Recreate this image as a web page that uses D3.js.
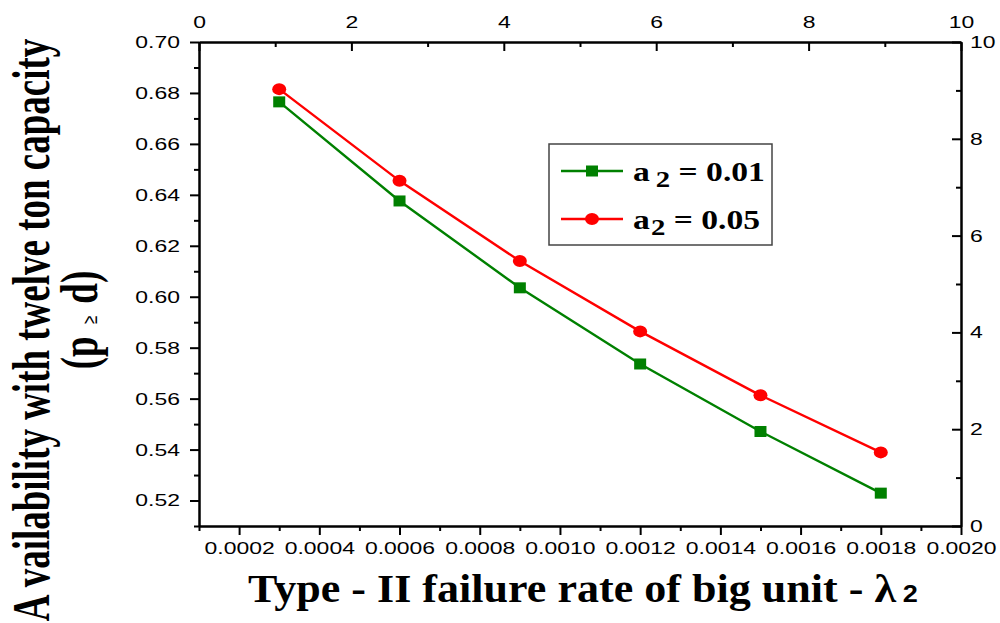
<!DOCTYPE html>
<html>
<head>
<meta charset="utf-8">
<script src="https://cdn.jsdelivr.net/npm/d3@7"></script>
<style>
  body { margin: 0; background: #fff; }
  svg { display: block; }
</style>
</head>
<body>
<div id="chart"></div>
<script>
// data
const lambdaValues = [0.0003, 0.0006, 0.0009, 0.0012, 0.0015, 0.0018];
const availA001 = [0.6765, 0.6376, 0.6035, 0.5736, 0.5471, 0.5229];
const availA005 = [0.6815, 0.6455, 0.6140, 0.5864, 0.5613, 0.5389];
const seriesNames = ["0.01", "0.05"];
const xTicks = [0.0002, 0.0004, 0.0006, 0.0008, 0.0010, 0.0012, 0.0014, 0.0016, 0.0018, 0.0020];
const xMinorTicks = [0.0001, 0.0003, 0.0005, 0.0007, 0.0009, 0.0011, 0.0013, 0.0015, 0.0017, 0.0019];
const yTicks = [0.52, 0.54, 0.56, 0.58, 0.60, 0.62, 0.64, 0.66, 0.68, 0.70];
const yMinorTicks = [0.51, 0.53, 0.55, 0.57, 0.59, 0.61, 0.63, 0.65, 0.67, 0.69];
const auxTicks = [0, 2, 4, 6, 8, 10];
const auxMinorTicks = [1, 3, 5, 7, 9];

const width = 1000, height = 623;
const margin = { top: 42, right: 39, bottom: 97, left: 199 };
const serif = "'Liberation Serif', 'Times New Roman', serif";
const sans = "'Liberation Sans', Arial, sans-serif";
const stretch = 1.35; // the source picture is widened sideways

const svg = d3.select('#chart').append('svg')
  .attr('width', width)
  .attr('height', height);

const x = d3.scaleLinear().domain([0.0001, 0.0020]).range([margin.left, width - margin.right]);
const y = d3.scaleLinear().domain([0.51, 0.70]).range([height - margin.bottom, margin.top]);
const xTop = d3.scaleLinear().domain([0, 10]).range(x.range());
const yRight = d3.scaleLinear().domain([0, 10]).range(y.range());

// widen tick labels around their anchor x, by wrapping each one in a scaled group
function styleAxis(g) {
  g.selectAll('path, line').attr('stroke', '#000').attr('stroke-width', 2);
  g.selectAll('.tick text').each(function () {
    const t = d3.select(this)
      .attr('font-family', sans).attr('font-size', 17).attr('fill', '#000');
    const x0 = +t.attr('x') || 0;
    const wrap = d3.select(this.parentNode).insert('g', () => this)
      .attr('transform', `translate(${x0 * (1 - stretch)},0) scale(${stretch},1)`);
    wrap.node().appendChild(this);
  });
}

// bottom axis
svg.append('g')
  .attr('transform', `translate(0,${y.range()[0]})`)
  .call(d3.axisBottom(x).tickValues(xMinorTicks).tickSizeInner(5).tickSizeOuter(0).tickFormat(''))
  .call(styleAxis);
svg.append('g')
  .attr('transform', `translate(0,${y.range()[0]})`)
  .call(d3.axisBottom(x).tickValues(xTicks).tickSizeInner(9).tickSizeOuter(0).tickPadding(7).tickFormat(d3.format('.4f')))
  .call(styleAxis);

// left axis
svg.append('g')
  .attr('transform', `translate(${x.range()[0]},0)`)
  .call(d3.axisLeft(y).tickValues(yMinorTicks).tickSizeInner(5).tickSizeOuter(0).tickFormat(''))
  .call(styleAxis);
svg.append('g')
  .attr('transform', `translate(${x.range()[0]},0)`)
  .call(d3.axisLeft(y).tickValues(yTicks).tickSizeInner(9).tickSizeOuter(0).tickPadding(10).tickFormat(d3.format('.2f')))
  .call(styleAxis);

// top axis (ticks inward)
svg.append('g')
  .attr('transform', `translate(0,${y.range()[1]})`)
  .call(d3.axisTop(xTop).tickValues(auxMinorTicks).tickSizeInner(-5).tickSizeOuter(0).tickFormat(''))
  .call(styleAxis);
svg.append('g')
  .attr('transform', `translate(0,${y.range()[1]})`)
  .call(d3.axisTop(xTop).tickValues(auxTicks).tickSizeInner(-9).tickSizeOuter(0).tickPadding(14))
  .call(styleAxis);

// right axis (ticks inward)
svg.append('g')
  .attr('transform', `translate(${x.range()[1]},0)`)
  .call(d3.axisRight(yRight).tickValues(auxMinorTicks).tickSizeInner(-5).tickSizeOuter(0).tickFormat(''))
  .call(styleAxis);
svg.append('g')
  .attr('transform', `translate(${x.range()[1]},0)`)
  .call(d3.axisRight(yRight).tickValues(auxTicks).tickSizeInner(-9).tickSizeOuter(0).tickPadding(9))
  .call(styleAxis);

// series
const series = [
  { name: seriesNames[0], values: availA001, color: '#008000', shape: 'square' },
  { name: seriesNames[1], values: availA005, color: '#ff0000', shape: 'circle' }
];

const line = d3.line().x(d => x(d[0])).y(d => y(d[1]));

series.forEach(s => {
  const pts = lambdaValues.map((l, i) => [l, s.values[i]]);
  svg.append('path')
    .datum(pts)
    .attr('fill', 'none')
    .attr('stroke', s.color)
    .attr('stroke-width', 2.4)
    .attr('d', line);
  if (s.shape === 'square') {
    svg.selectAll(null).data(pts).enter().append('rect')
      .attr('x', d => x(d[0]) - 6)
      .attr('y', d => y(d[1]) - 5.5)
      .attr('width', 12).attr('height', 11)
      .attr('fill', s.color);
  } else {
    svg.selectAll(null).data(pts).enter().append('ellipse')
      .attr('cx', d => x(d[0]))
      .attr('cy', d => y(d[1]))
      .attr('rx', 7).attr('ry', 6)
      .attr('fill', s.color);
  }
});

// legend
const legend = svg.append('g').attr('transform', 'translate(549,144)');
legend.append('rect')
  .attr('width', 223).attr('height', 101)
  .attr('fill', '#fff').attr('stroke', '#444').attr('stroke-width', 1.5);

series.forEach((s, i) => {
  const ly = 27 + i * 48;
  const row = legend.append('g').attr('transform', `translate(0,${ly})`);
  row.append('line').attr('x1', 12).attr('x2', 74).attr('y1', 0).attr('y2', 0)
    .attr('stroke', s.color).attr('stroke-width', 2.4);
  if (s.shape === 'square') {
    row.append('rect').attr('x', 37).attr('y', -5.5).attr('width', 12).attr('height', 11).attr('fill', s.color);
  } else {
    row.append('ellipse').attr('cx', 43).attr('cy', 0).attr('rx', 7).attr('ry', 6).attr('fill', s.color);
  }
  const t = row.append('g').attr('transform', 'translate(84,10) scale(1.2,1)')
    .append('text')
    .attr('font-family', serif).attr('font-weight', 'bold').attr('font-size', 28).attr('fill', '#000');
  t.append('tspan').text('a');
  t.append('tspan').attr('dx', i === 0 ? 5 : 1).attr('dy', 6).attr('font-size', 24).text('2');
  t.append('tspan').attr('dy', -6).text(' = ' + s.name);
});

// axis titles
const xTitle = svg.append('g').attr('transform', 'translate(583,602) scale(1.13,1)')
  .append('text')
  .attr('text-anchor', 'middle')
  .attr('font-family', serif).attr('font-weight', 'bold').attr('font-size', 39).attr('fill', '#000');
xTitle.append('tspan').text('Type - II failure rate of big unit - \u03bb');
xTitle.append('tspan').attr('dx', 6).attr('font-family', sans).attr('font-size', 24).text('2');

const yTitle = svg.append('g').attr('transform', 'translate(0,330) scale(1.4,1) rotate(-90)');
yTitle.append('text')
  .attr('x', 0).attr('y', 35)
  .attr('text-anchor', 'middle')
  .attr('font-family', serif).attr('font-weight', 'bold').attr('font-size', 37).attr('fill', '#000')
  .text('A vailability with twelve ton capacity');
const y2 = yTitle.append('text')
  .attr('x', 10).attr('y', 69)
  .attr('text-anchor', 'middle')
  .attr('font-family', serif).attr('font-weight', 'bold').attr('font-size', 37).attr('fill', '#000');
y2.append('tspan').text('(p ');
y2.append('tspan').attr('dx', 3).attr('font-size', 15).attr('font-weight', 'normal').attr('font-family', sans).text('\u2265');
y2.append('tspan').attr('dx', 3).text(' d)');
</script>
</body>
</html>
